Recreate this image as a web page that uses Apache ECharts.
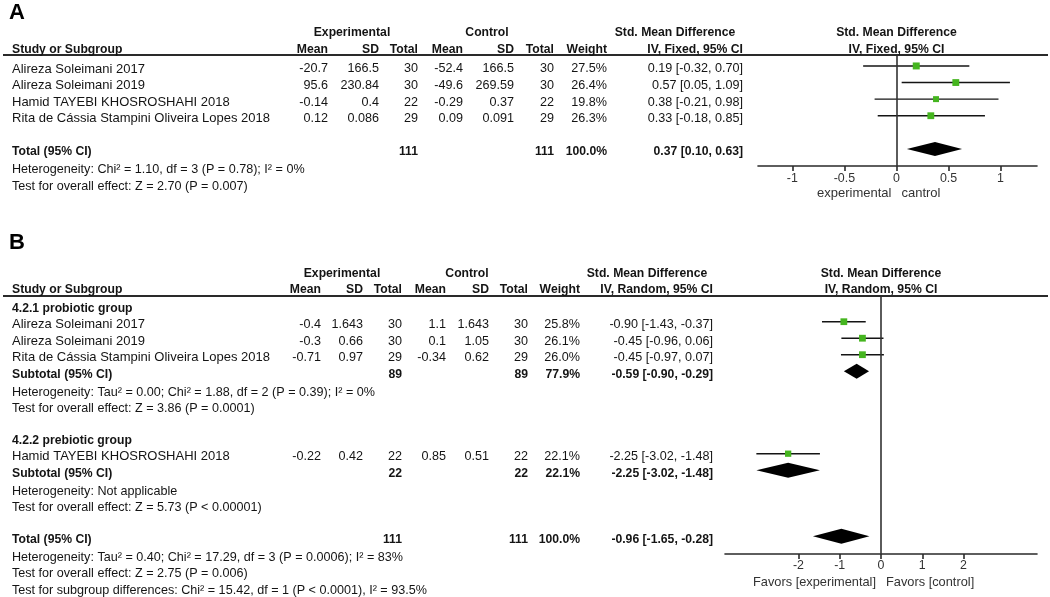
<!DOCTYPE html>
<html><head><meta charset="utf-8">
<script src="https://cdn.jsdelivr.net/npm/echarts@6/dist/echarts.min.js"></script>
<style>html,body{margin:0;padding:0;background:#fff}#c{width:1050px;height:597px}</style>
</head><body><div id="c"></div>
<script>
// ---------------- Panel A data ----------------
const studiesA = ['Alireza Soleimani 2017', 'Alireza Soleimani 2019', 'Hamid TAYEBI KHOSROSHAHI 2018', 'Rita de Cássia Stampini Oliveira Lopes 2018'];
const expMeanA = ['-20.7', '95.6', '-0.14', '0.12'];
const expSDA = ['166.5', '230.84', '0.4', '0.086'];
const expNA = [30, 30, 22, 29];
const ctlMeanA = ['-52.4', '-49.6', '-0.29', '0.09'];
const ctlSDA = ['166.5', '269.59', '0.37', '0.091'];
const ctlNA = [30, 30, 22, 29];
const weightA = [27.5, 26.4, 19.8, 26.3];
const smdA = [0.19, 0.57, 0.38, 0.33];
const loA = [-0.32, 0.05, -0.21, -0.18];
const hiA = [0.70, 1.09, 0.98, 0.85];
const totalA = { expN: 111, ctlN: 111, weight: 100.0, est: 0.37, lo: 0.10, hi: 0.63 };
const footA = ['Heterogeneity: Chi² = 1.10, df = 3 (P = 0.78); I² = 0%', 'Test for overall effect: Z = 2.70 (P = 0.007)'];
const ticksA = [-1, -0.5, 0, 0.5, 1];

// ---------------- Panel B data ----------------
const subgroupsB = ['4.2.1 probiotic group', '4.2.2 prebiotic group'];
const studiesB = ['Alireza Soleimani 2017', 'Alireza Soleimani 2019', 'Rita de Cássia Stampini Oliveira Lopes 2018', 'Hamid TAYEBI KHOSROSHAHI 2018'];
const groupOfB = [0, 0, 0, 1];
const expMeanB = ['-0.4', '-0.3', '-0.71', '-0.22'];
const expSDB = ['1.643', '0.66', '0.97', '0.42'];
const expNB = [30, 30, 29, 22];
const ctlMeanB = ['1.1', '0.1', '-0.34', '0.85'];
const ctlSDB = ['1.643', '1.05', '0.62', '0.51'];
const ctlNB = [30, 30, 29, 22];
const weightB = [25.8, 26.1, 26.0, 22.1];
const smdB = [-0.90, -0.45, -0.45, -2.25];
const loB = [-1.43, -0.96, -0.97, -3.02];
const hiB = [-0.37, 0.06, 0.07, -1.48];
const subExpNB = [89, 22];
const subCtlNB = [89, 22];
const subWeightB = [77.9, 22.1];
const subEstB = [-0.59, -2.25];
const subLoB = [-0.90, -3.02];
const subHiB = [-0.29, -1.48];
const subHetB = ['Heterogeneity: Tau² = 0.00; Chi² = 1.88, df = 2 (P = 0.39); I² = 0%', 'Heterogeneity: Not applicable'];
const subTestB = ['Test for overall effect: Z = 3.86 (P = 0.0001)', 'Test for overall effect: Z = 5.73 (P < 0.00001)'];
const totalB = { expN: 111, ctlN: 111, weight: 100.0, est: -0.96, lo: -1.65, hi: -0.28 };
const footB = ['Heterogeneity: Tau² = 0.40; Chi² = 17.29, df = 3 (P = 0.0006); I² = 83%', 'Test for overall effect: Z = 2.75 (P = 0.006)', 'Test for subgroup differences: Chi² = 15.42, df = 1 (P < 0.0001), I² = 93.5%'];
const ticksB = [-2, -1, 0, 1, 2];

// ---------------- Row layout ----------------
const rowA = studiesA.map((s, i) => i);
const totalRowA = studiesA.length + 1;
const rowB = [], headRowB = [], subRowB = [], hetRowB = [], testRowB = [];
let r = 0;
subgroupsB.forEach((g, gi) => {
  headRowB[gi] = r++;
  studiesB.forEach((s, i) => { if (groupOfB[i] === gi) rowB[i] = r++; });
  subRowB[gi] = r++; hetRowB[gi] = r++; testRowB[gi] = r++; r++;
});
const totalRowB = r;

const FONT = '"Liberation Sans", Arial, Helvetica, sans-serif';
const INK = '#141414';
const GREEN = '#45b51f';
const FS = 12.6, FSB = 12.2, FSN = 13;
const ci = (e, l, h) => e.toFixed(2) + ' [' + l.toFixed(2) + ', ' + h.toFixed(2) + ']';
const pct = w => w.toFixed(1) + '%';

const errBar = (params, api) => {
  const a = api.coord([api.value(0), api.value(2)]);
  const b = api.coord([api.value(1), api.value(2)]);
  return { type: 'line', shape: { x1: a[0], y1: a[1], x2: b[0], y2: b[1] }, style: { stroke: INK, lineWidth: 1.4 } };
};
const diamond = hh => (params, api) => {
  const row = api.value(3);
  const l = api.coord([api.value(0), row]);
  const c = api.coord([api.value(1), row]);
  const h = api.coord([api.value(2), row]);
  return { type: 'polygon', shape: { points: [[l[0], l[1]], [c[0], c[1] - hh], [h[0], h[1]], [c[0], c[1] + hh]] }, style: { fill: '#000' } };
};
const zeroLine = { silent: true, symbol: ['none', 'none'], label: { show: false }, lineStyle: { color: '#333', width: 1.6, type: 'solid' }, data: [{ xAxis: 0 }], animation: false };
const xAxisBase = (min, max, ticks, margin) => ({
  type: 'value', min, max, position: 'bottom',
  axisLine: { show: true, onZero: false, lineStyle: { color: '#2a2a2a', width: 1.6 } },
  axisTick: { show: true, customValues: ticks, length: 5, lineStyle: { color: '#2a2a2a', width: 1.6 } },
  axisLabel: { customValues: ticks, color: '#333', fontSize: 12.4, fontFamily: FONT, margin, formatter: v => String(v) },
  splitLine: { show: false }
});

const chart = echarts.init(document.getElementById('c'), null, { renderer: 'canvas' });
chart.setOption({
  animation: false,
  backgroundColor: '#fff',
  grid: [
    { left: 758, right: 13, top: 55, bottom: 597 - 166 },
    { left: 725, right: 13, top: 296, bottom: 597 - 554 }
  ],
  xAxis: [xAxisBase(-1.33, 1.35, ticksA, 7), Object.assign(xAxisBase(-3.78, 3.78, ticksB, 6), { gridIndex: 1 })],
  yAxis: [
    { type: 'value', inverse: true, min: -0.66, max: 6.03, show: false },
    { type: 'value', inverse: true, min: -0.558, max: 15.08, show: false, gridIndex: 1 }
  ],
  series: [
    { type: 'custom', xAxisIndex: 0, yAxisIndex: 0, renderItem: errBar, encode: { x: [0, 1], y: 2 },
      data: smdA.map((v, i) => [loA[i], hiA[i], rowA[i]]), z: 2 },
    { type: 'scatter', xAxisIndex: 0, yAxisIndex: 0, symbol: 'rect',
      symbolSize: d => 3.4 + d[2] * 0.13, itemStyle: { color: GREEN, opacity: 1 },
      data: smdA.map((v, i) => [v, rowA[i], weightA[i]]), z: 3, markLine: zeroLine },
    { type: 'custom', xAxisIndex: 0, yAxisIndex: 0, renderItem: diamond(7), encode: { x: [0, 1, 2], y: 3 },
      data: [[totalA.lo, totalA.est, totalA.hi, totalRowA]], z: 3 },

    { type: 'custom', xAxisIndex: 1, yAxisIndex: 1, renderItem: errBar, encode: { x: [0, 1], y: 2 },
      data: smdB.map((v, i) => [loB[i], hiB[i], rowB[i]]), z: 2 },
    { type: 'scatter', xAxisIndex: 1, yAxisIndex: 1, symbol: 'rect',
      symbolSize: d => 3.4 + d[2] * 0.13, itemStyle: { color: GREEN, opacity: 1 },
      data: smdB.map((v, i) => [v, rowB[i], weightB[i]]), z: 3, markLine: zeroLine },
    { type: 'custom', xAxisIndex: 1, yAxisIndex: 1, renderItem: diamond(7.5), encode: { x: [0, 1, 2], y: 3 },
      data: subEstB.map((v, g) => [subLoB[g], v, subHiB[g], subRowB[g]]).concat([[totalB.lo, totalB.est, totalB.hi, totalRowB]]), z: 3 }
  ]
});

// ---------------- Table text ----------------
const g = [];
function txt(x, y, s, align, bold, opt) {
  opt = opt || {};
  g.push({ type: 'text', x, y, silent: true, z: 10,
    style: { text: String(s), fill: opt.fill || INK, fontSize: opt.size || (bold ? FSB : FS), fontFamily: FONT,
      fontWeight: bold ? 'bold' : 'normal', align: align || 'left', verticalAlign: 'middle',
      textAlign: align || 'left', textVerticalAlign: 'middle' } });
}
function hline(x1, x2, y) {
  g.push({ type: 'line', silent: true, z: 9, shape: { x1, y1: y, x2, y2: y }, style: { stroke: '#2a2a2a', lineWidth: 1.8 } });
}
const yA = row => chart.convertToPixel({ gridIndex: 0 }, [0, row])[1];
const yB = row => chart.convertToPixel({ gridIndex: 1 }, [0, row])[1];
const x0A = chart.convertToPixel({ gridIndex: 0 }, [0, 0])[0];
const x0B = chart.convertToPixel({ gridIndex: 1 }, [0, 0])[0];
const ROW = 3, FOOT = 4.5;

// Panel A
const cA = { mean: 328, sd: 379, n: 418, cmean: 463, csd: 514, cn: 554, w: 607, ci: 743 };
txt(9, 13, 'A', 'left', true, { size: 22, fill: '#000' });
txt(352, 33, 'Experimental', 'center', true);
txt(487, 33, 'Control', 'center', true);
txt(675, 33, 'Std. Mean Difference', 'center', true);
txt(x0A, 33, 'Std. Mean Difference', 'center', true);
txt(12, 50, 'Study or Subgroup', 'left', true);
txt(cA.mean, 50, 'Mean', 'right', true); txt(cA.sd, 50, 'SD', 'right', true); txt(cA.n, 50, 'Total', 'right', true);
txt(cA.cmean, 50, 'Mean', 'right', true); txt(cA.csd, 50, 'SD', 'right', true); txt(cA.cn, 50, 'Total', 'right', true);
txt(cA.w, 50, 'Weight', 'right', true); txt(cA.ci, 50, 'IV, Fixed, 95% CI', 'right', true);
txt(x0A, 50, 'IV, Fixed, 95% CI', 'center', true);
hline(3, 1048, 55);
studiesA.forEach((s, i) => {
  const y = yA(rowA[i]) + ROW;
  txt(12, y, s, 'left', false, { size: FSN });
  txt(cA.mean, y, expMeanA[i], 'right'); txt(cA.sd, y, expSDA[i], 'right'); txt(cA.n, y, expNA[i], 'right');
  txt(cA.cmean, y, ctlMeanA[i], 'right'); txt(cA.csd, y, ctlSDA[i], 'right'); txt(cA.cn, y, ctlNA[i], 'right');
  txt(cA.w, y, pct(weightA[i]), 'right'); txt(cA.ci, y, ci(smdA[i], loA[i], hiA[i]), 'right');
});
{
  const y = yA(totalRowA) + ROW;
  txt(12, y, 'Total (95% CI)', 'left', true);
  txt(cA.n, y, totalA.expN, 'right', true); txt(cA.cn, y, totalA.ctlN, 'right', true);
  txt(cA.w, y, pct(totalA.weight), 'right', true); txt(cA.ci, y, ci(totalA.est, totalA.lo, totalA.hi), 'right', true);
  footA.forEach((f, k) => txt(12, yA(totalRowA + 1 + k) + FOOT, f, 'left'));
}
txt(x0A - 5, 193, 'experimental', 'right', false, { fill: '#333', size: 13 });
txt(x0A + 5, 193, 'cantrol', 'left', false, { fill: '#333', size: 13 });

// Panel B
const cB = { mean: 321, sd: 363, n: 402, cmean: 446, csd: 489, cn: 528, w: 580, ci: 713 };
txt(9, 243, 'B', 'left', true, { size: 22, fill: '#000' });
txt(342, 274, 'Experimental', 'center', true);
txt(467, 274, 'Control', 'center', true);
txt(647, 274, 'Std. Mean Difference', 'center', true);
txt(x0B, 274, 'Std. Mean Difference', 'center', true);
txt(12, 290, 'Study or Subgroup', 'left', true);
txt(cB.mean, 290, 'Mean', 'right', true); txt(cB.sd, 290, 'SD', 'right', true); txt(cB.n, 290, 'Total', 'right', true);
txt(cB.cmean, 290, 'Mean', 'right', true); txt(cB.csd, 290, 'SD', 'right', true); txt(cB.cn, 290, 'Total', 'right', true);
txt(cB.w, 290, 'Weight', 'right', true); txt(cB.ci, 290, 'IV, Random, 95% CI', 'right', true);
txt(x0B, 290, 'IV, Random, 95% CI', 'center', true);
hline(3, 1048, 296);
subgroupsB.forEach((name, gi) => {
  txt(12, yB(headRowB[gi]) + ROW, name, 'left', true);
  const y = yB(subRowB[gi]) + ROW;
  txt(12, y, 'Subtotal (95% CI)', 'left', true);
  txt(cB.n, y, subExpNB[gi], 'right', true); txt(cB.cn, y, subCtlNB[gi], 'right', true);
  txt(cB.w, y, pct(subWeightB[gi]), 'right', true); txt(cB.ci, y, ci(subEstB[gi], subLoB[gi], subHiB[gi]), 'right', true);
  txt(12, yB(hetRowB[gi]) + FOOT, subHetB[gi], 'left');
  txt(12, yB(testRowB[gi]) + FOOT, subTestB[gi], 'left');
});
studiesB.forEach((s, i) => {
  const y = yB(rowB[i]) + ROW;
  txt(12, y, s, 'left', false, { size: FSN });
  txt(cB.mean, y, expMeanB[i], 'right'); txt(cB.sd, y, expSDB[i], 'right'); txt(cB.n, y, expNB[i], 'right');
  txt(cB.cmean, y, ctlMeanB[i], 'right'); txt(cB.csd, y, ctlSDB[i], 'right'); txt(cB.cn, y, ctlNB[i], 'right');
  txt(cB.w, y, pct(weightB[i]), 'right'); txt(cB.ci, y, ci(smdB[i], loB[i], hiB[i]), 'right');
});
{
  const y = yB(totalRowB) + ROW;
  txt(12, y, 'Total (95% CI)', 'left', true);
  txt(cB.n, y, totalB.expN, 'right', true); txt(cB.cn, y, totalB.ctlN, 'right', true);
  txt(cB.w, y, pct(totalB.weight), 'right', true); txt(cB.ci, y, ci(totalB.est, totalB.lo, totalB.hi), 'right', true);
  footB.forEach((f, k) => txt(12, yB(totalRowB + 1 + k) + FOOT, f, 'left'));
}
txt(x0B - 5, 582, 'Favors [experimental]', 'right', false, { fill: '#333', size: 12.8 });
txt(x0B + 5, 582, 'Favors [control]', 'left', false, { fill: '#333', size: 12.8 });

chart.setOption({ graphic: { elements: g } });
</script>
</body></html>
